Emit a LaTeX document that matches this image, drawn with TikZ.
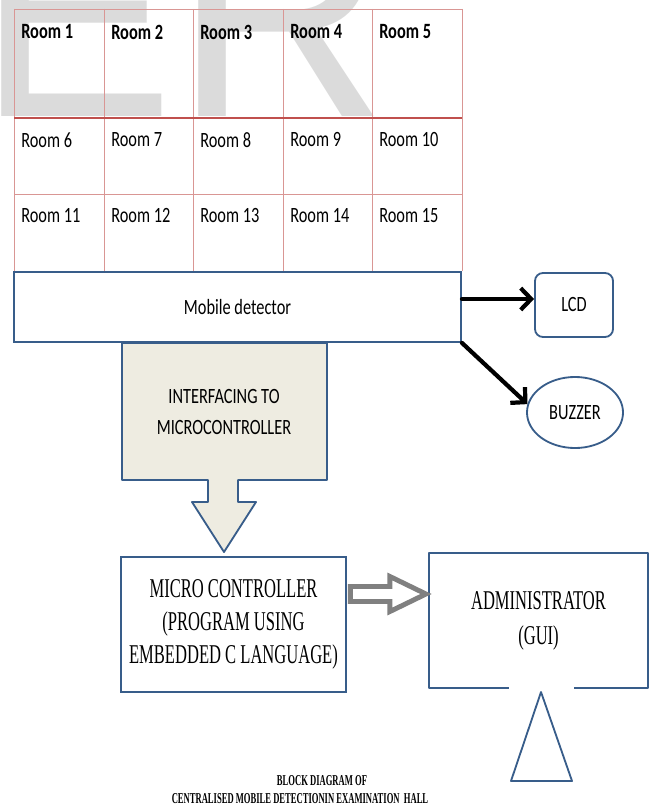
\documentclass[tikz,border=0pt]{standalone}
\usepackage{fontspec}
\usepackage{tikz}
\usetikzlibrary{arrows.meta,shapes.geometric,calc}

\newfontfamily\roomfont[FakeStretch=0.75]{Carlito}
\newfontfamily\blockfont[FakeStretch=0.61]{Liberation Serif}
\newfontfamily\capfont[FakeStretch=0.57]{Liberation Serif}
\newfontfamily\markfont{Liberation Sans}

\definecolor{gridred}{HTML}{C0504D}
\definecolor{boxblue}{HTML}{385D8A}
\definecolor{ifacefill}{HTML}{EEECE1}

\begin{document}
\begin{tikzpicture}[
      x=0.025cm, y=-0.025cm,
      thinred/.style={draw=gridred!60, line width=0.6pt},
      thickred/.style={draw=gridred, line width=1.8pt},
      room/.style={anchor=west, inner sep=0pt,
                   font={\roomfont\fontsize{15.5}{18}\selectfont}},
      roomhead/.style={room, font={\roomfont\bfseries\fontsize{15.5}{18}\selectfont}},
      sanstext/.style={align=center, font={\roomfont\fontsize{15.5}{22}\selectfont}},
      serftext/.style={align=center, font={\blockfont\fontsize{19.3}{23.5}\selectfont}},
      captext/.style={inner sep=0pt, font={\capfont\bfseries\fontsize{10.7}{13}\selectfont}},
      bluebox/.style={draw=boxblue, line width=1.3pt, inner sep=0pt},
      edge/.style={draw=boxblue, line width=1.3pt, line join=round},
      flow/.style={-{Straight Barb[length=2.6mm, width=5.4mm]}, line width=3pt,
                   line cap=round},
      hollow/.style={draw=black!50, fill=white, line width=3.5pt, line join=miter}
    ]
    \useasboundingbox (0,0) rectangle (650,806);

    % --- Watermark behind the room plan ------------------------------------
    \node[anchor=base west, inner sep=0pt, text=black!14,
          font={\markfont\fontsize{210}{210}\selectfont}] (mark) at (-23,117) {ER};

    % --- Room plan -------------------------------------------------------------
    \foreach \x in {14,104,193,283,372,462}
      \draw[thinred] (\x,9) -- (\x,271);
    \draw[thinred] (14,9) -- (462,9);
    \draw[thinred] (14,194) -- (462,194);
    \draw[thickred] (14,118) -- (462,118);

    \foreach \n/\x in {1/14,2/104,3/193,4/283,5/372}
      \node[roomhead] (room\n) at (\x+7,32) {Room \n};
    \foreach \n/\x in {6/14,7/104,8/193,9/283,10/372}
      \node[room] (room\n) at (\x+7,140) {Room \n};
    \foreach \n/\x in {11/14,12/104,13/193,14/283,15/372}
      \node[room] (room\n) at (\x+7,216) {Room \n};

    % --- Detector and its outputs ----------------------------------------------
    \node[bluebox, sanstext, minimum width=11.175cm, minimum height=1.75cm]
      (det) at (237.5,307) {Mobile detector};
    \node[bluebox, sanstext, rounded corners=0.2cm,
          minimum width=1.95cm, minimum height=1.6cm] (lcd) at (574,305) {LCD};
    \node[bluebox, sanstext, ellipse, minimum width=2.4cm, minimum height=1.775cm]
      (buz) at (575,412.5) {BUZZER};

    \coordinate (lcdin) at ([yshift=0.2cm]det.east);
    \draw[flow] (lcdin) -- (lcdin -| lcd.west);
    \draw[flow] (det.south east) -- (buz.170);

    % Interfacing block with its arrow down to the controller.
    \draw[edge, fill=ifacefill] (122,343) -- (327,343) -- (327,480) -- (238,480)
      -- (238,502) -- (256,502) -- (224,552) -- (192,502) -- (208,502)
      -- (208,480) -- (122,480) -- cycle;
    \node[sanstext] (iface) at (224,412) {INTERFACING TO\\MICROCONTROLLER};

    % --- Controller and administrator ------------------------------------------
    \node[bluebox, serftext, minimum width=5.625cm, minimum height=3.375cm]
      (mc) at (233.5,624.5)
      {MICRO CONTROLLER\\(PROGRAM USING\\EMBEDDED C LANGUAGE)};
    \node[serftext, inner sep=0pt, minimum width=5.475cm, minimum height=3.375cm,
          font={\blockfont\fontsize{19.3}{25}\selectfont}]
      (admin) at (538.5,620.5) {ADMINISTRATOR\\(GUI)};
    \draw[edge] ($(admin.south west)+(80,0)$) -- (admin.south west)
      -- (admin.north west) -- (admin.north east) -- (admin.south east) -- ++(-74,0);

    % Hollow block arrow from the controller to the administrator.
    \coordinate (linkin) at ($(mc.east)+(3.5,-30.5)$);
    \draw[hollow] (linkin) ++(0,-7.5) -- ++(39.5,0) -- ++(0,-10) -- ++(36,17.5)
      -- ++(-36,17.5) -- ++(0,-10) -- ++(-39.5,0) -- cycle;

    \draw[edge] (541,692) -- (572,781) -- (511,781) -- cycle;

    % --- Caption -----------------------------------------------------------------
    \node[captext] (cap1) at (322,781) {BLOCK DIAGRAM OF};
    \node[captext] (cap2) at (300,799)
      {CENTRALISED MOBILE DETECTIONIN EXAMINATION\ \ HALL};
  \end{tikzpicture}
\end{document}
